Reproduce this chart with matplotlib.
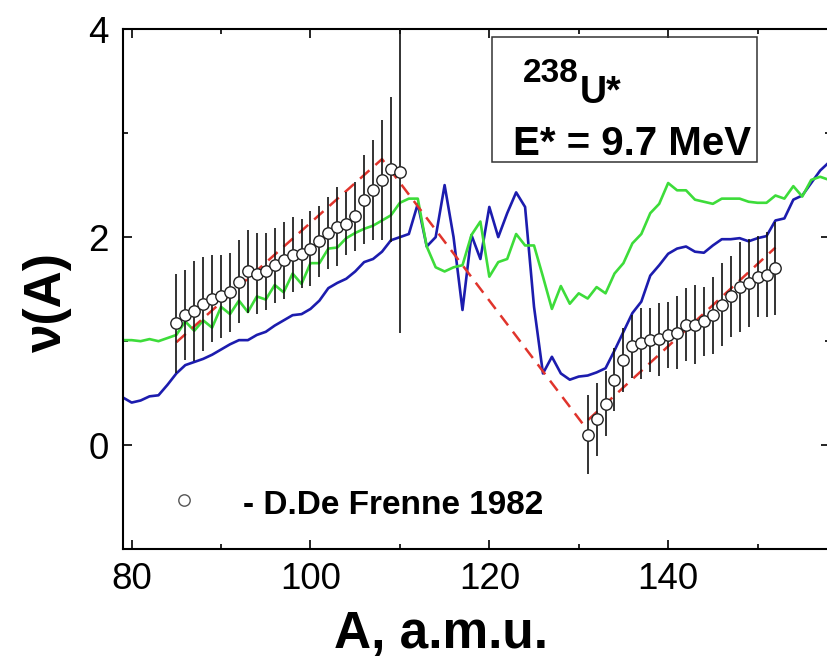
import numpy as np
import matplotlib
matplotlib.use("Agg")
import matplotlib.pyplot as plt
from matplotlib.ticker import MultipleLocator
from matplotlib.patches import Rectangle

plt.rcParams['font.family'] = ['Liberation Sans', 'DejaVu Sans']

# measured nu(A), D.De Frenne 1982
A_light = np.arange(85, 111)
nu_light = [1.17, 1.25, 1.29, 1.36, 1.41, 1.43, 1.47, 1.57, 1.67, 1.65, 1.67, 1.73, 1.78,
            1.83, 1.84, 1.89, 1.96, 2.04, 2.10, 2.13, 2.20, 2.36, 2.45, 2.55, 2.65, 2.63]
err_light = [0.48, 0.43, 0.48, 0.45, 0.42, 0.40, 0.38, 0.40, 0.40, 0.39, 0.37, 0.36, 0.37,
             0.36, 0.33, 0.36, 0.34, 0.35, 0.38, 0.30, 0.33, 0.43, 0.48, 0.58, 0.70, 1.55]

A_heavy = np.arange(131, 153)
nu_heavy = [0.10, 0.25, 0.40, 0.63, 0.82, 0.95, 0.98, 1.01, 1.02, 1.06, 1.08, 1.16, 1.16,
            1.19, 1.25, 1.35, 1.43, 1.52, 1.56, 1.62, 1.64, 1.70]
err_heavy = [0.38, 0.35, 0.31, 0.30, 0.31, 0.30, 0.34, 0.31, 0.35, 0.32, 0.35, 0.35, 0.38,
             0.33, 0.37, 0.40, 0.39, 0.43, 0.42, 0.39, 0.41, 0.45]

# sawtooth guide
A_saw = [85, 108, 130.5, 152]
nu_saw = [0.99, 2.75, 0.20, 1.90]

# calculations, A = 79 ... 158
A_calc = np.arange(79, 159)
nu_blue = [0.46, 0.41, 0.43, 0.47, 0.48, 0.58, 0.69, 0.77, 0.80, 0.83,
           0.87, 0.92, 0.97, 1.01, 1.01, 1.06, 1.09, 1.15, 1.20, 1.25,
           1.26, 1.31, 1.39, 1.51, 1.56, 1.60, 1.67, 1.76, 1.79, 1.86,
           1.97, 2.00, 2.03, 2.32, 1.91, 2.00, 2.50, 2.00, 1.30, 2.02,
           1.79, 2.29, 2.00, 2.23, 2.43, 2.29, 1.33, 0.69, 0.85, 0.69,
           0.63, 0.66, 0.67, 0.70, 0.74, 0.91, 1.09, 1.27, 1.38, 1.63,
           1.73, 1.84, 1.89, 1.91, 1.86, 1.85, 1.92, 1.98, 1.98, 1.99,
           1.96, 1.99, 2.01, 2.16, 2.18, 2.36, 2.40, 2.52, 2.64, 2.72]
nu_green = [1.01, 1.01, 1.00, 1.02, 1.00, 1.03, 1.06, 1.19, 1.10, 1.20,
            1.13, 1.33, 1.26, 1.39, 1.28, 1.43, 1.40, 1.54, 1.47, 1.65,
            1.55, 1.75, 1.75, 1.89, 1.90, 1.99, 2.04, 2.08, 2.11, 2.16,
            2.21, 2.33, 2.37, 2.37, 1.91, 1.71, 1.67, 1.71, 1.73, 2.02,
            2.15, 1.62, 1.76, 1.79, 2.03, 1.92, 1.92, 1.62, 1.31, 1.53,
            1.36, 1.46, 1.41, 1.52, 1.46, 1.65, 1.75, 1.94, 2.03, 2.23,
            2.32, 2.52, 2.45, 2.45, 2.36, 2.34, 2.32, 2.37, 2.37, 2.37,
            2.34, 2.33, 2.33, 2.40, 2.37, 2.49, 2.39, 2.55, 2.58, 2.55]

fig = plt.figure(figsize=(8.28, 6.58), dpi=100)
ax = fig.add_axes([0.1482, 0.1652, 0.8542, 0.7907])

ax.plot(A_calc, nu_blue, color='#1c1cae', lw=1.9, zorder=2)
ax.plot(A_calc, nu_green, color='#3ddc3a', lw=1.9, zorder=2)
ax.plot(A_saw, nu_saw, color='#e0342c', lw=1.8, ls=(0, (5.0, 3.2)), zorder=2.5)

for A, nu, err in [(A_light, nu_light, err_light), (A_heavy, nu_heavy, err_heavy)]:
    ax.errorbar(A, nu, yerr=err, fmt='o', ms=8.2, mfc='white', mec='#222222', mew=1.0,
                ecolor='#111111', elinewidth=1.2, capsize=0, zorder=3)

ax.set_xlim(79.0, 158.1)
ax.set_ylim(-1, 4)
ax.xaxis.set_major_locator(MultipleLocator(20))
ax.xaxis.set_minor_locator(MultipleLocator(10))
ax.yaxis.set_major_locator(MultipleLocator(2))
ax.yaxis.set_minor_locator(MultipleLocator(1))
ax.tick_params(which='both', direction='in', top=True, right=True, width=1.2)
ax.tick_params(which='major', length=6.5, labelsize=26.5)
ax.tick_params(axis='x', which='major', pad=9)
ax.tick_params(axis='y', which='major', pad=10)
ax.tick_params(which='minor', length=3.5)
for s in ax.spines.values():
    s.set_linewidth(1.5)

fig.text(441 / 828, 10 / 658, 'A, a.m.u.', fontsize=37, fontweight='bold',
         ha='center', va='baseline')
fig.text(47 / 828, 1 - 302 / 658, 'ν(A)', fontsize=37, fontweight='bold',
         rotation=90, ha='center', va='center')

# nucleus / excitation box
ax.add_patch(Rectangle((0.5217, 0.7438), 0.3747, 0.2402, transform=ax.transAxes,
                       fill=False, ec='#333333', lw=1.1, zorder=4))
ax.text(0.566, 0.898, '238', transform=ax.transAxes, fontsize=24, fontweight='bold',
        ha='left', va='baseline')
ax.text(0.6464, 0.8578, 'U*', transform=ax.transAxes, fontsize=27, fontweight='bold',
        ha='left', va='baseline')
ax.text(0.5518, 0.7578, 'E* = 9.7 MeV', transform=ax.transAxes, fontsize=29,
        fontweight='bold', ha='left', va='baseline')

# legend entry
ax.plot([0.0867], [0.0948], 'o', ms=8.2, mfc='white', mec='#555555', mew=1.0,
        transform=ax.transAxes, clip_on=False)
ax.text(0.170, 0.0679, '- D.De Frenne 1982', transform=ax.transAxes, fontsize=24,
        fontweight='bold', ha='left', va='baseline')

fig.savefig('out.png', dpi=100)
